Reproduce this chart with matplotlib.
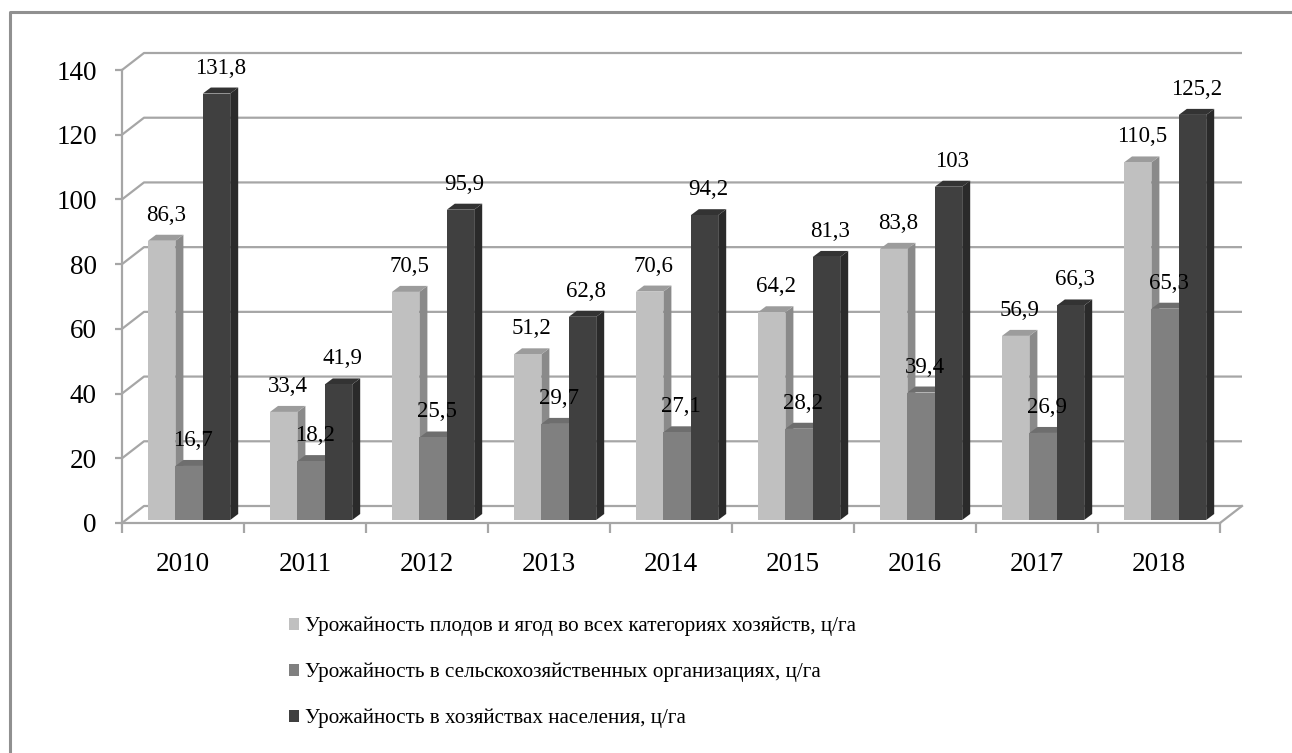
import numpy as np
import matplotlib.pyplot as plt
from matplotlib.patches import Polygon, Patch
from matplotlib.lines import Line2D

plt.rcParams['font.family'] = ['Liberation Serif', 'DejaVu Serif']

# data
years = ['2010', '2011', '2012', '2013', '2014', '2015', '2016', '2017', '2018']
all_farms = [86.3, 33.4, 70.5, 51.2, 70.6, 64.2, 83.8, 56.9, 110.5]
agri_org = [16.7, 18.2, 25.5, 29.7, 27.1, 28.2, 39.4, 26.9, 65.3]
households = [131.8, 41.9, 95.9, 62.8, 94.2, 81.3, 103, 66.3, 125.2]
series_names = ['Урожайность плодов и ягод во всех категориях хозяйств, ц/га',
                'Урожайность в сельскохозяйственных организациях, ц/га',
                'Урожайность в хозяйствах населения, ц/га']
yticks = [0, 20, 40, 60, 80, 100, 120, 140]

# front / top / side colours
colors = [('#c0c0c0', '#9c9c9c', '#8a8a8a'),
          ('#808080', '#6e6e6e', '#5e5e5e'),
          ('#404040', '#333333', '#2a2a2a')]
grid_c = '#a6a6a6'

W, H = 1292, 753
fig = plt.figure(figsize=(W / 100, H / 100), dpi=100)

# outer frame (only top and left are visible in the picture)
fig.add_artist(Line2D([10 / W, 10 / W, 1], [0, 1 - 12 / H, 1 - 12 / H],
                      transform=fig.transFigure, color='#909090', lw=2.2))

ax = fig.add_axes([122 / W, 1 - 523 / H, (1220 - 122) / W, (523 - 70) / H])
ax.set_xlim(0, 9)
ax.set_ylim(0, 140)
ax.patch.set_visible(False)

# pixels -> data units
p0 = ax.transData.transform((0, 0))
p1 = ax.transData.transform((1, 1))
sx, sy = p1 - p0


def dx(px):
    return px / sx


def dy(px):
    return px / sy


# back wall + floor
wx, wy = dx(22), dy(17)
for v in yticks:
    ax.plot([0, wx, 9 + wx], [v, v + wy, v + wy], color=grid_c, lw=1.6,
            clip_on=False, zorder=1, solid_capstyle='butt')
ax.plot([9, 9 + wx], [0, wy], color=grid_c, lw=1.6, clip_on=False, zorder=1)

# bars
bw = dx(27.4)
x_off = dx(26)
base = dy(3)
bdx, bdy = dx(8), dy(6)
all_series = [all_farms, agri_org, households]
for i in range(len(years)):
    for j, vals in enumerate(all_series):
        v = vals[i]
        x0 = i + x_off + j * bw
        x1 = x0 + bw
        y0 = base
        y1 = v + base
        front, top, side = colors[j]
        z = 3 + j
        ax.add_patch(Polygon([(x1, y0), (x1 + bdx, y0 + bdy), (x1 + bdx, y1 + bdy), (x1, y1)],
                             closed=True, facecolor=side, edgecolor='none', zorder=z, clip_on=False))
        ax.add_patch(Polygon([(x0, y1), (x1, y1), (x1 + bdx, y1 + bdy), (x0 + bdx, y1 + bdy)],
                             closed=True, facecolor=top, edgecolor='none', zorder=z, clip_on=False))
        ax.add_patch(Polygon([(x0, y0), (x1, y0), (x1, y1), (x0, y1)],
                             closed=True, facecolor=front, edgecolor='none', zorder=z, clip_on=False))
        lab = f'{v:g}'.replace('.', ',')
        ax.text(x0 + bw / 2 + bdx / 2, y1 + dy(20), lab, ha='center', va='baseline',
                fontsize=16.5, color='black', zorder=10, clip_on=False)

# axes look
for s in ['top', 'right']:
    ax.spines[s].set_visible(False)
for s in ['left', 'bottom']:
    ax.spines[s].set_color(grid_c)
    ax.spines[s].set_linewidth(1.6)
ax.set_yticks(yticks)
ax.set_yticklabels([str(t) for t in yticks], fontsize=19.5)
ax.tick_params(axis='y', length=5, width=1.6, color=grid_c, pad=13)
ax.set_xticks(np.arange(0, 10))
ax.set_xticklabels([])
ax.tick_params(axis='x', which='major', length=7, width=1.6, color=grid_c)
ax.set_xticks(np.arange(len(years)) + 0.5, minor=True)
ax.set_xticklabels(years, minor=True, fontsize=19.5)
ax.tick_params(axis='x', which='minor', length=0, pad=21)

handles = [Patch(facecolor=c[0], edgecolor='none') for c in colors]
ax.legend(handles, series_names, loc='upper left', bbox_to_anchor=(289 / W, 1 - 617 / H),
          bbox_transform=fig.transFigure, frameon=False, fontsize=15.2,
          handlelength=0.48, handleheight=0.48, handletextpad=0.3, labelspacing=1.25,
          borderpad=0, borderaxespad=0)

fig.savefig('out.png', dpi=100)
